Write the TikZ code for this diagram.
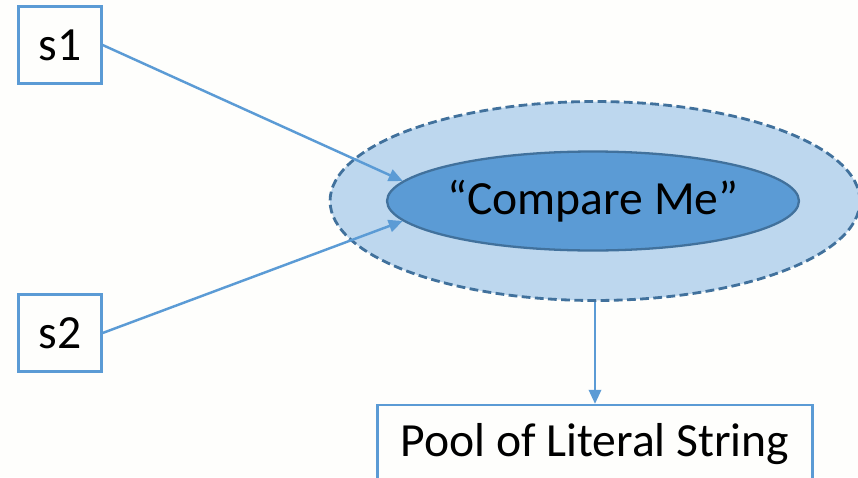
\documentclass[tikz,border=0pt]{standalone}
\usepackage{fontspec}
\setmainfont{Carlito}
\usetikzlibrary{arrows.meta,positioning,shapes.geometric}
\definecolor{accent}{RGB}{91,155,213}
\definecolor{darkaccent}{RGB}{65,113,156}
\definecolor{paleaccent}{RGB}{189,215,238}
\definecolor{paper}{RGB}{254,254,252}

\begin{document}
\begin{tikzpicture}[
  x=0.02cm,y=-0.02cm,
  >={Triangle[length=8pt,width=7pt]},
  txt/.style={font=\fontsize{27.1}{32}\selectfont},
  refbox/.style={txt,draw=accent,line width=1.3pt,fill=paper,inner sep=0pt,minimum width=1.66cm,minimum height=1.54cm},
  poolbox/.style={txt,draw=accent,line width=1.3pt,fill=paper,inner sep=0pt,minimum width=8.7cm,minimum height=1.56cm},
  region/.style={ellipse,draw=darkaccent,line width=1.6pt,dash pattern=on 5pt off 2.5pt,fill=paleaccent,minimum width=10.6cm,minimum height=3.98cm},
  strobj/.style={txt,ellipse,draw=darkaccent,line width=1.3pt,fill=accent,inner sep=0pt,minimum width=8.24cm,minimum height=1.98cm},
  link/.style={->,draw=accent,line width=1.4pt}
]
  \fill[paper] (0,0) rectangle (858,477);
  \useasboundingbox (0,0) rectangle (858,477);
  \node[region] (lits) at (595,201) {};
  \node[strobj] (obj) at (593,201) {“Compare Me”};
  \node[refbox] (s1) at (60,45) {s1};
  \node[refbox] (s2) at (60,333) {s2};
  \node[poolbox,below=2.04cm of lits] (pool) {Pool of Literal String};
  \draw[link] (s1.east) -- (obj.174);
  \draw[link] (s2.east) -- (obj.186);
  \draw[link] (lits.south) -- (pool.north);
\end{tikzpicture}
\end{document}
